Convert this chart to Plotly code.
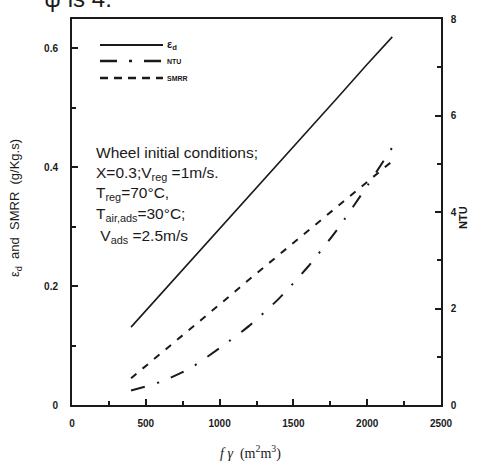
import plotly.graph_objects as go

# Specific surface area f*gamma (m2/m3)
fgamma = [400, 600, 800, 1000, 1200, 1400, 1600, 1800, 2000, 2170]
# Dehumidification effectiveness (left axis)
eps_d = [0.131, 0.186, 0.241, 0.297, 0.352, 0.407, 0.462, 0.517, 0.573, 0.619]
# Specific moisture removal rate, g/kg.s (left axis)
smrr = [0.045, 0.086, 0.128, 0.169, 0.211, 0.252, 0.293, 0.335, 0.376, 0.410]
# Number of transfer units (right axis)
ntu = [0.30, 0.48, 0.76, 1.18, 1.64, 2.20, 2.87, 3.65, 4.54, 5.34]

x_ticks = [0, 500, 1000, 1500, 2000, 2500]
left_ticks = [0, 0.2, 0.4, 0.6]
right_ticks = [0, 2, 4, 6, 8]

INK = "#1a1a1a"
TICKFONT = dict(family="Liberation Sans", size=10, color=INK, weight="bold")

fig = go.Figure()
fig.add_trace(go.Scatter(x=fgamma, y=eps_d, mode="lines", name="ε<sub>d</sub>",
                         line=dict(color=INK, width=1.6)))
fig.add_trace(go.Scatter(x=fgamma, y=ntu, mode="lines", name="NTU", yaxis="y2",
                         line=dict(color=INK, width=2, dash="14px,13px,2px,13px",
                                   shape="spline", smoothing=0.6)))
fig.add_trace(go.Scatter(x=fgamma, y=smrr, mode="lines", name="SMRR",
                         line=dict(color=INK, width=2, dash="7px,8px")))

fig.update_layout(
    width=478, height=466,
    margin=dict(l=72, r=37, t=19, b=61),
    paper_bgcolor="white", plot_bgcolor="white",
    showlegend=False,
    xaxis=dict(range=[0, 2500], tickvals=x_ticks, ticks="inside", ticklen=6,
               tickwidth=1.5, tickcolor=INK, showline=True, linewidth=2,
               linecolor=INK, mirror=True, showgrid=False, zeroline=False,
               tickfont=TICKFONT, ticklabelstandoff=8,
               minor=dict(dtick=250, ticks="inside", ticklen=4, tickcolor=INK)),
    yaxis=dict(range=[0, 0.649], tickvals=left_ticks, ticktext=["0", "0.2", "0.4", "0.6"],
               ticks="inside", ticklen=6, tickwidth=1.5, tickcolor=INK,
               showline=True, linewidth=2, linecolor=INK, showgrid=False,
               zeroline=False, tickfont=TICKFONT, ticklabelstandoff=10,
               minor=dict(dtick=0.1, ticks="inside", ticklen=4, tickcolor=INK)),
    yaxis2=dict(range=[0, 8], tickvals=right_ticks, overlaying="y", side="right",
                ticks="inside", ticklen=6, tickwidth=1.5, tickcolor=INK,
                showline=True, linewidth=1.5, linecolor=INK, showgrid=False,
                zeroline=False, tickfont=TICKFONT, ticklabelstandoff=6,
                minor=dict(dtick=1, ticks="inside", ticklen=4, tickcolor=INK)),
)

# Hand-drawn legend block in the upper-left corner of the plot
def px_x(px):
    return (px - 72) / 369.0

def px_y(py):
    return (405 - py) / 386.0

legend_rows = [
    (45, dict(color=INK, width=2), "ε<sub>d</sub>", 11),
    (61, dict(color=INK, width=2.5, dash="17px,12px,3px,12px"), "NTU", 7),
    (78, dict(color=INK, width=2.5, dash="8px,6px"), "SMRR", 7),
]
for py, ln, label, fs in legend_rows:
    fig.add_shape(type="line", xref="paper", yref="paper",
                  x0=px_x(100), x1=px_x(163), y0=px_y(py), y1=px_y(py), line=ln)
    fig.add_annotation(xref="paper", yref="paper", x=px_x(165), y=px_y(py),
                       xanchor="left", yanchor="middle", text=label, showarrow=False,
                       font=dict(family="Liberation Sans", size=fs, color=INK, weight="bold"))

# Operating conditions note
conditions = [
    (152, "Wheel initial conditions;"),
    (173, "X=0.3;V<sub>reg</sub> =1m/s."),
    (193, "T<sub>reg</sub>=70°C,"),
    (214, "T<sub>air,ads</sub>=30°C;"),
    (236, " V<sub>ads</sub> =2.5m/s"),
]
for py, txt in conditions:
    fig.add_annotation(xref="paper", yref="paper", x=px_x(94), y=px_y(py),
                       xanchor="left", yanchor="middle", text=txt, showarrow=False,
                       font=dict(family="Liberation Sans", size=15.5, color=INK))

# Axis titles
fig.add_annotation(xref="paper", yref="paper", x=px_x(15), y=px_y(208),
                   text="ε<sub>d</sub>  and  SMRR  (g/Kg.s)", textangle=-90, showarrow=False,
                   xanchor="center", yanchor="middle",
                   font=dict(family="Liberation Sans", size=13, color=INK))
fig.add_annotation(xref="paper", yref="paper", x=px_x(463), y=px_y(218),
                   text="NTU", textangle=-90, showarrow=False,
                   xanchor="center", yanchor="middle",
                   font=dict(family="Liberation Sans", size=11, color=INK, weight="bold"))
fig.add_annotation(xref="paper", yref="paper", x=px_x(250), y=px_y(452),
                   text="<i>f γ</i>  (m<sup>2</sup>m<sup>3</sup>)", showarrow=False,
                   xanchor="center", yanchor="middle",
                   font=dict(family="Liberation Serif", size=14, color=INK))

# Tail of the preceding sentence above the figure
fig.add_annotation(xref="paper", yref="paper", x=px_x(42), y=px_y(14),
                   text="ψ is 4.", showarrow=False, xanchor="left", yanchor="bottom",
                   font=dict(family="Liberation Sans", size=24, color=INK))

fig.write_html("out.html")
